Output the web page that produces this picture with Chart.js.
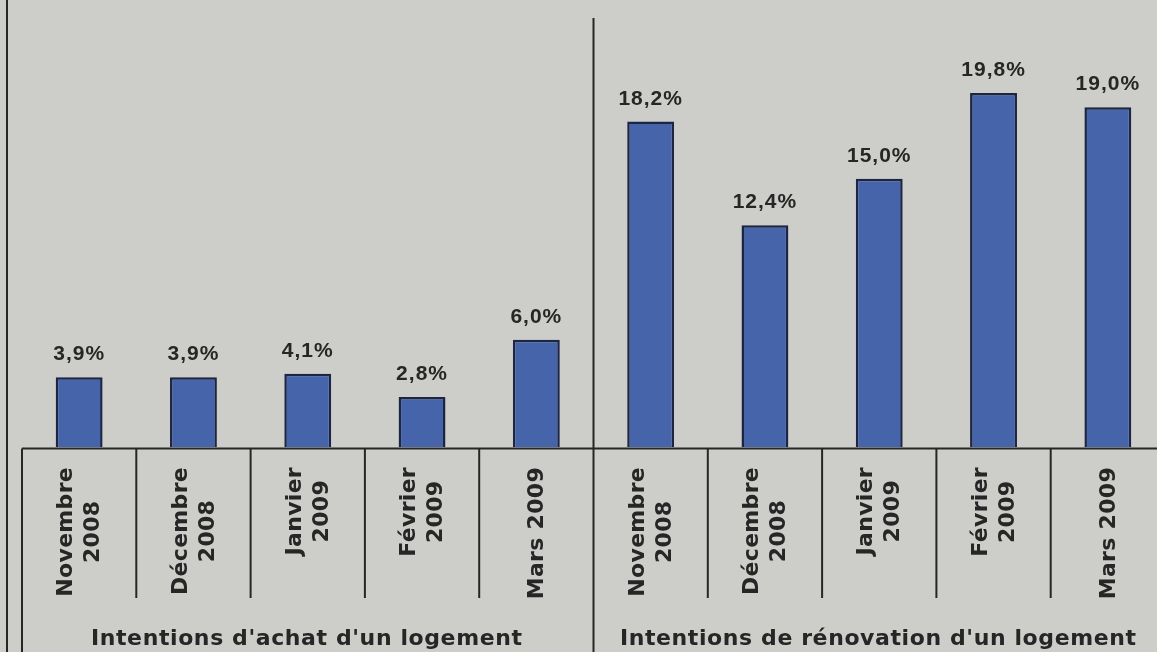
<!DOCTYPE html>
<html lang="fr">
<head>
<meta charset="utf-8">
<script src="https://cdn.jsdelivr.net/npm/chart.js@4.4.1/dist/chart.umd.min.js"></script>
<style>
  html, body { margin: 0; padding: 0; overflow: hidden; background: #cdcdc9; }
  #wrap { position: relative; width: 1180px; height: 652px; }
</style>
</head>
<body>
<div id="wrap"><canvas id="c"></canvas></div>
<script>
// ---- data ----
const months = [['Novembre', '2008'], ['Décembre', '2008'], ['Janvier', '2009'], ['Février', '2009'], ['Mars 2009']];
const groupTitles = ["Intentions d'achat d'un logement", "Intentions de rénovation d'un logement"];
const achat = [3.9, 3.9, 4.1, 2.8, 6.0];
const renovation = [18.2, 12.4, 15.0, 19.8, 19.0];

const categories = months.concat(months);
const values = achat.concat(renovation);

const INK = '#262626';

const tablePlugin = {
  id: 'tablePlugin',
  afterDraw(chart) {
    const ctx = chart.ctx;
    const x = chart.scales.x;
    const area = chart.chartArea;
    const H = chart.height;
    const axisY = area.bottom + 1.5;
    const cellBottom = 598;
    const n = categories.length;
    const centers = categories.map((_, i) => x.getPixelForValue(i));
    const step = centers[1] - centers[0];
    const bounds = [];
    for (let i = 0; i <= n; i++) bounds.push(centers[0] - step / 2 + i * step);

    ctx.save();
    ctx.strokeStyle = INK;
    ctx.lineWidth = 2;
    // outer frame line on the left
    ctx.beginPath(); ctx.moveTo(7, 0); ctx.lineTo(7, H); ctx.stroke();
    // axis / table top
    ctx.beginPath(); ctx.moveTo(bounds[0], axisY); ctx.lineTo(chart.width, axisY); ctx.stroke();
    // table left
    ctx.beginPath(); ctx.moveTo(bounds[0], axisY); ctx.lineTo(bounds[0], H); ctx.stroke();
    // separators
    for (let i = 1; i < n; i++) {
      ctx.beginPath();
      if (i === months.length) { ctx.moveTo(bounds[i], 18); ctx.lineTo(bounds[i], H); }
      else { ctx.moveTo(bounds[i], axisY); ctx.lineTo(bounds[i], cellBottom); }
      ctx.stroke();
    }

    // rotated month labels
    ctx.fillStyle = INK;
    ctx.font = 'bold 22px "DejaVu Sans"';
    ctx.letterSpacing = '0.3px';
    ctx.textAlign = 'center';
    ctx.textBaseline = 'middle';
    const lineH = 27;
    categories.forEach((lab, i) => {
      const lines = Array.isArray(lab) ? lab : [lab];
      const maxW = Math.max(...lines.map(l => ctx.measureText(l).width));
      const yc = 467 + maxW / 2;
      ctx.save();
      ctx.translate(centers[i] + 1, yc);
      ctx.rotate(-Math.PI / 2);
      lines.forEach((l, j) => {
        ctx.fillText(l, 0, (j - (lines.length - 1) / 2) * lineH);
      });
      ctx.restore();
    });

    // group titles
    ctx.font = 'bold 22px "DejaVu Sans"';
    ctx.letterSpacing = '0.6px';
    ctx.textBaseline = 'alphabetic';
    groupTitles.forEach((t, g) => {
      const a = bounds[g * months.length];
      const b = bounds[(g + 1) * months.length];
      ctx.fillText(t, (a + b) / 2 - 1, 645);
    });

    // value labels
    ctx.font = 'bold 21px "Liberation Sans"';
    ctx.letterSpacing = '1px';
    const meta = chart.getDatasetMeta(0);
    meta.data.forEach((bar, i) => {
      const txt = values[i].toFixed(1).replace('.', ',') + '%';
      ctx.fillText(txt, bar.x, bar.y - 17);
    });
    ctx.restore();
  }
};

new Chart(document.getElementById('c'), {
  type: 'bar',
  data: {
    labels: categories,
    datasets: [{
      data: values,
      backgroundColor: '#4564aa',
      borderColor: '#1c2544',
      borderWidth: 2.5,
      borderSkipped: 'bottom',
      barPercentage: 0.41,
      categoryPercentage: 1.0
    }]
  },
  options: {
    responsive: true,
    maintainAspectRatio: false,
    animation: false,
    layout: { padding: { left: 22, right: 15, top: 0, bottom: 0 } },
    plugins: { legend: { display: false }, tooltip: { enabled: false } },
    scales: {
      x: {
        display: true,
        grid: { display: false },
        border: { display: false },
        ticks: { display: false },
        afterFit: s => { s.height = 205; }
      },
      y: { display: false, min: 0, max: 25 }
    }
  },
  plugins: [tablePlugin]
});
</script>
</body>
</html>
